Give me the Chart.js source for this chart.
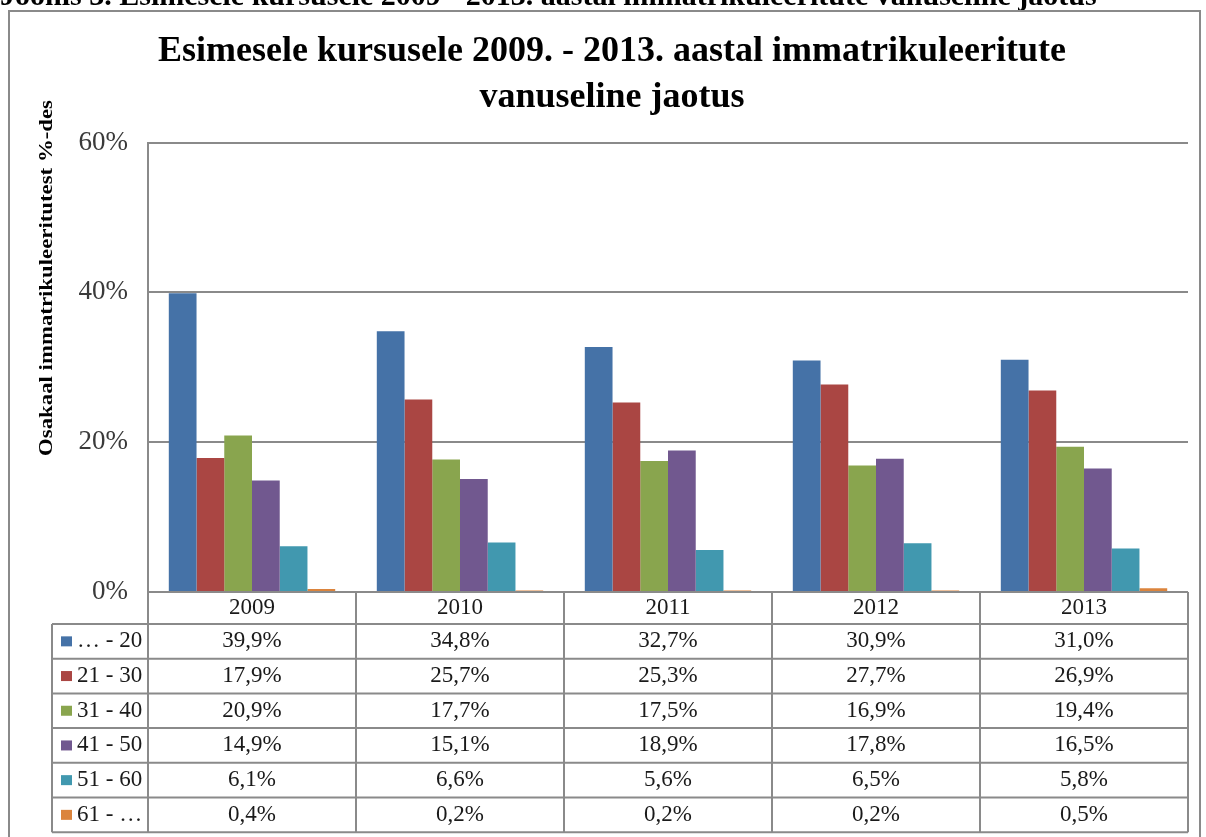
<!DOCTYPE html>
<html><head><meta charset="utf-8">
<script src="https://cdn.jsdelivr.net/npm/chart.js@4.4.1/dist/chart.umd.min.js"></script>
<style>html,body{margin:0;padding:0;background:#fff}</style>
</head><body>
<canvas id="c" width="1206" height="837"></canvas>
<script>
const categories = ['2009', '2010', '2011', '2012', '2013'];
const seriesNames = ['… - 20', '21 - 30', '31 - 40', '41 - 50', '51 - 60', '61 - …'];
const ageTo20 = [39.9, 34.8, 32.7, 30.9, 31.0];
const age21to30 = [17.9, 25.7, 25.3, 27.7, 26.9];
const age31to40 = [20.9, 17.7, 17.5, 16.9, 19.4];
const age41to50 = [14.9, 15.1, 18.9, 17.8, 16.5];
const age51to60 = [6.1, 6.6, 5.6, 6.5, 5.8];
const age61plus = [0.4, 0.2, 0.2, 0.2, 0.5];
const yTicks = [0, 20, 40, 60];
const titleLines = ['Esimesele kursusele 2009. - 2013. aastal immatrikuleeritute', 'vanuseline jaotus'];
const yTitle = 'Osakaal immatrikuleeritutest %-des';
const caption = 'Joonis 3. Esimesele kursusele 2009 - 2013. aastal immatrikuleeritute vanuseline jaotus';

const seriesValues = [ageTo20, age21to30, age31to40, age41to50, age51to60, age61plus];
const colors = ['#4572A7', '#AA4643', '#89A54E', '#71588F', '#4198AF', '#DB843D'];
const SERIF = "'Liberation Serif', 'Times New Roman', serif";
const LINE = '#8a8a8a';

const fmt = v => v.toFixed(1).replace('.', ',') + '%';

const decor = {
  id: 'decor',
  beforeDraw(chart) {
    const ctx = chart.ctx;
    ctx.save();
    ctx.fillStyle = '#fff';
    ctx.fillRect(0, 0, chart.width, chart.height);
    // caption cut off at top
    ctx.fillStyle = '#000';
    ctx.textBaseline = 'alphabetic';
    ctx.font = 'bold 30px ' + SERIF;
    ctx.fillText(caption, 0, 5);
    // outer frame
    ctx.strokeStyle = LINE;
    ctx.lineWidth = 2;
    ctx.strokeRect(9, 11, 1191, 840);
    ctx.restore();
  },
  afterDraw(chart) {
    const ctx = chart.ctx;
    const area = chart.chartArea;
    const xs = chart.scales.x;
    const L = area.left, R = area.right;
    const top = area.bottom;
    const headH = 32, rowH = 34.7;
    const legL = 52;
    const bottom = top + headH + rowH * seriesNames.length;
    const half = (xs.getPixelForValue(1) - xs.getPixelForValue(0)) / 2;
    ctx.save();
    ctx.strokeStyle = LINE;
    ctx.lineWidth = 2;
    ctx.beginPath();
    for (let r = 0; r <= seriesNames.length; r++) {
      const y = top + headH + r * rowH;
      ctx.moveTo(legL, y); ctx.lineTo(R, y);
    }
    ctx.moveTo(legL, top + headH); ctx.lineTo(legL, bottom);
    ctx.moveTo(L, top); ctx.lineTo(L, bottom);
    categories.forEach((c, i) => {
      const xb = xs.getPixelForValue(i) + half;
      ctx.moveTo(xb, top); ctx.lineTo(xb, bottom);
    });
    ctx.stroke();

    ctx.fillStyle = '#1a1a1a';
    ctx.font = '23px ' + SERIF;
    ctx.textAlign = 'center';
    ctx.textBaseline = 'middle';
    categories.forEach((c, i) => {
      const cx = xs.getPixelForValue(i);
      ctx.fillText(c, cx, top + headH / 2);
      seriesValues.forEach((vals, r) => {
        ctx.fillText(fmt(vals[i]), cx, top + headH + rowH * (r + 0.5));
      });
    });
    ctx.textAlign = 'left';
    seriesNames.forEach((n, r) => {
      const cy = top + headH + rowH * (r + 0.5);
      ctx.fillStyle = colors[r];
      ctx.fillRect(61, cy - 5, 11, 10);
      ctx.fillStyle = '#1a1a1a';
      ctx.fillText(n, 77, cy);
    });

    // y axis title
    ctx.translate(47, 278);
    ctx.rotate(-Math.PI / 2);
    ctx.scale(1.2, 1);
    ctx.textAlign = 'center';
    ctx.font = 'bold 19px ' + SERIF;
    ctx.fillStyle = '#000';
    ctx.fillText(yTitle, 0, 0);
    ctx.restore();
  }
};

new Chart(document.getElementById('c'), {
  type: 'bar',
  data: {
    labels: categories,
    datasets: seriesNames.map((n, i) => ({
      label: n,
      data: seriesValues[i],
      backgroundColor: colors[i],
      borderWidth: 0,
      barPercentage: 1,
      categoryPercentage: 0.8
    }))
  },
  options: {
    responsive: false,
    animation: false,
    devicePixelRatio: 1,
    layout: { padding: { left: 36, right: 18, top: 0, bottom: 245 } },
    plugins: {
      legend: { display: false },
      tooltip: { enabled: false },
      title: {
        display: true,
        text: titleLines,
        color: '#000',
        font: { family: SERIF, size: 36, weight: 'bold', lineHeight: 1.3 },
        padding: { top: 28, bottom: 21 }
      }
    },
    scales: {
      x: {
        grid: { display: false, drawTicks: false },
        border: { display: false },
        ticks: { display: false }
      },
      y: {
        min: 0, max: 60,
        afterBuildTicks: s => { s.ticks = yTicks.map(v => ({ value: v })); },
        afterFit: s => { s.width = 112; },
        grid: { color: LINE, lineWidth: 2, drawTicks: false },
        border: { color: LINE, width: 2 },
        ticks: { padding: 20, color: '#3a3a3a', font: { family: SERIF, size: 27 }, callback: v => v + '%' }
      }
    }
  },
  plugins: [decor]
});
</script>
</body></html>
